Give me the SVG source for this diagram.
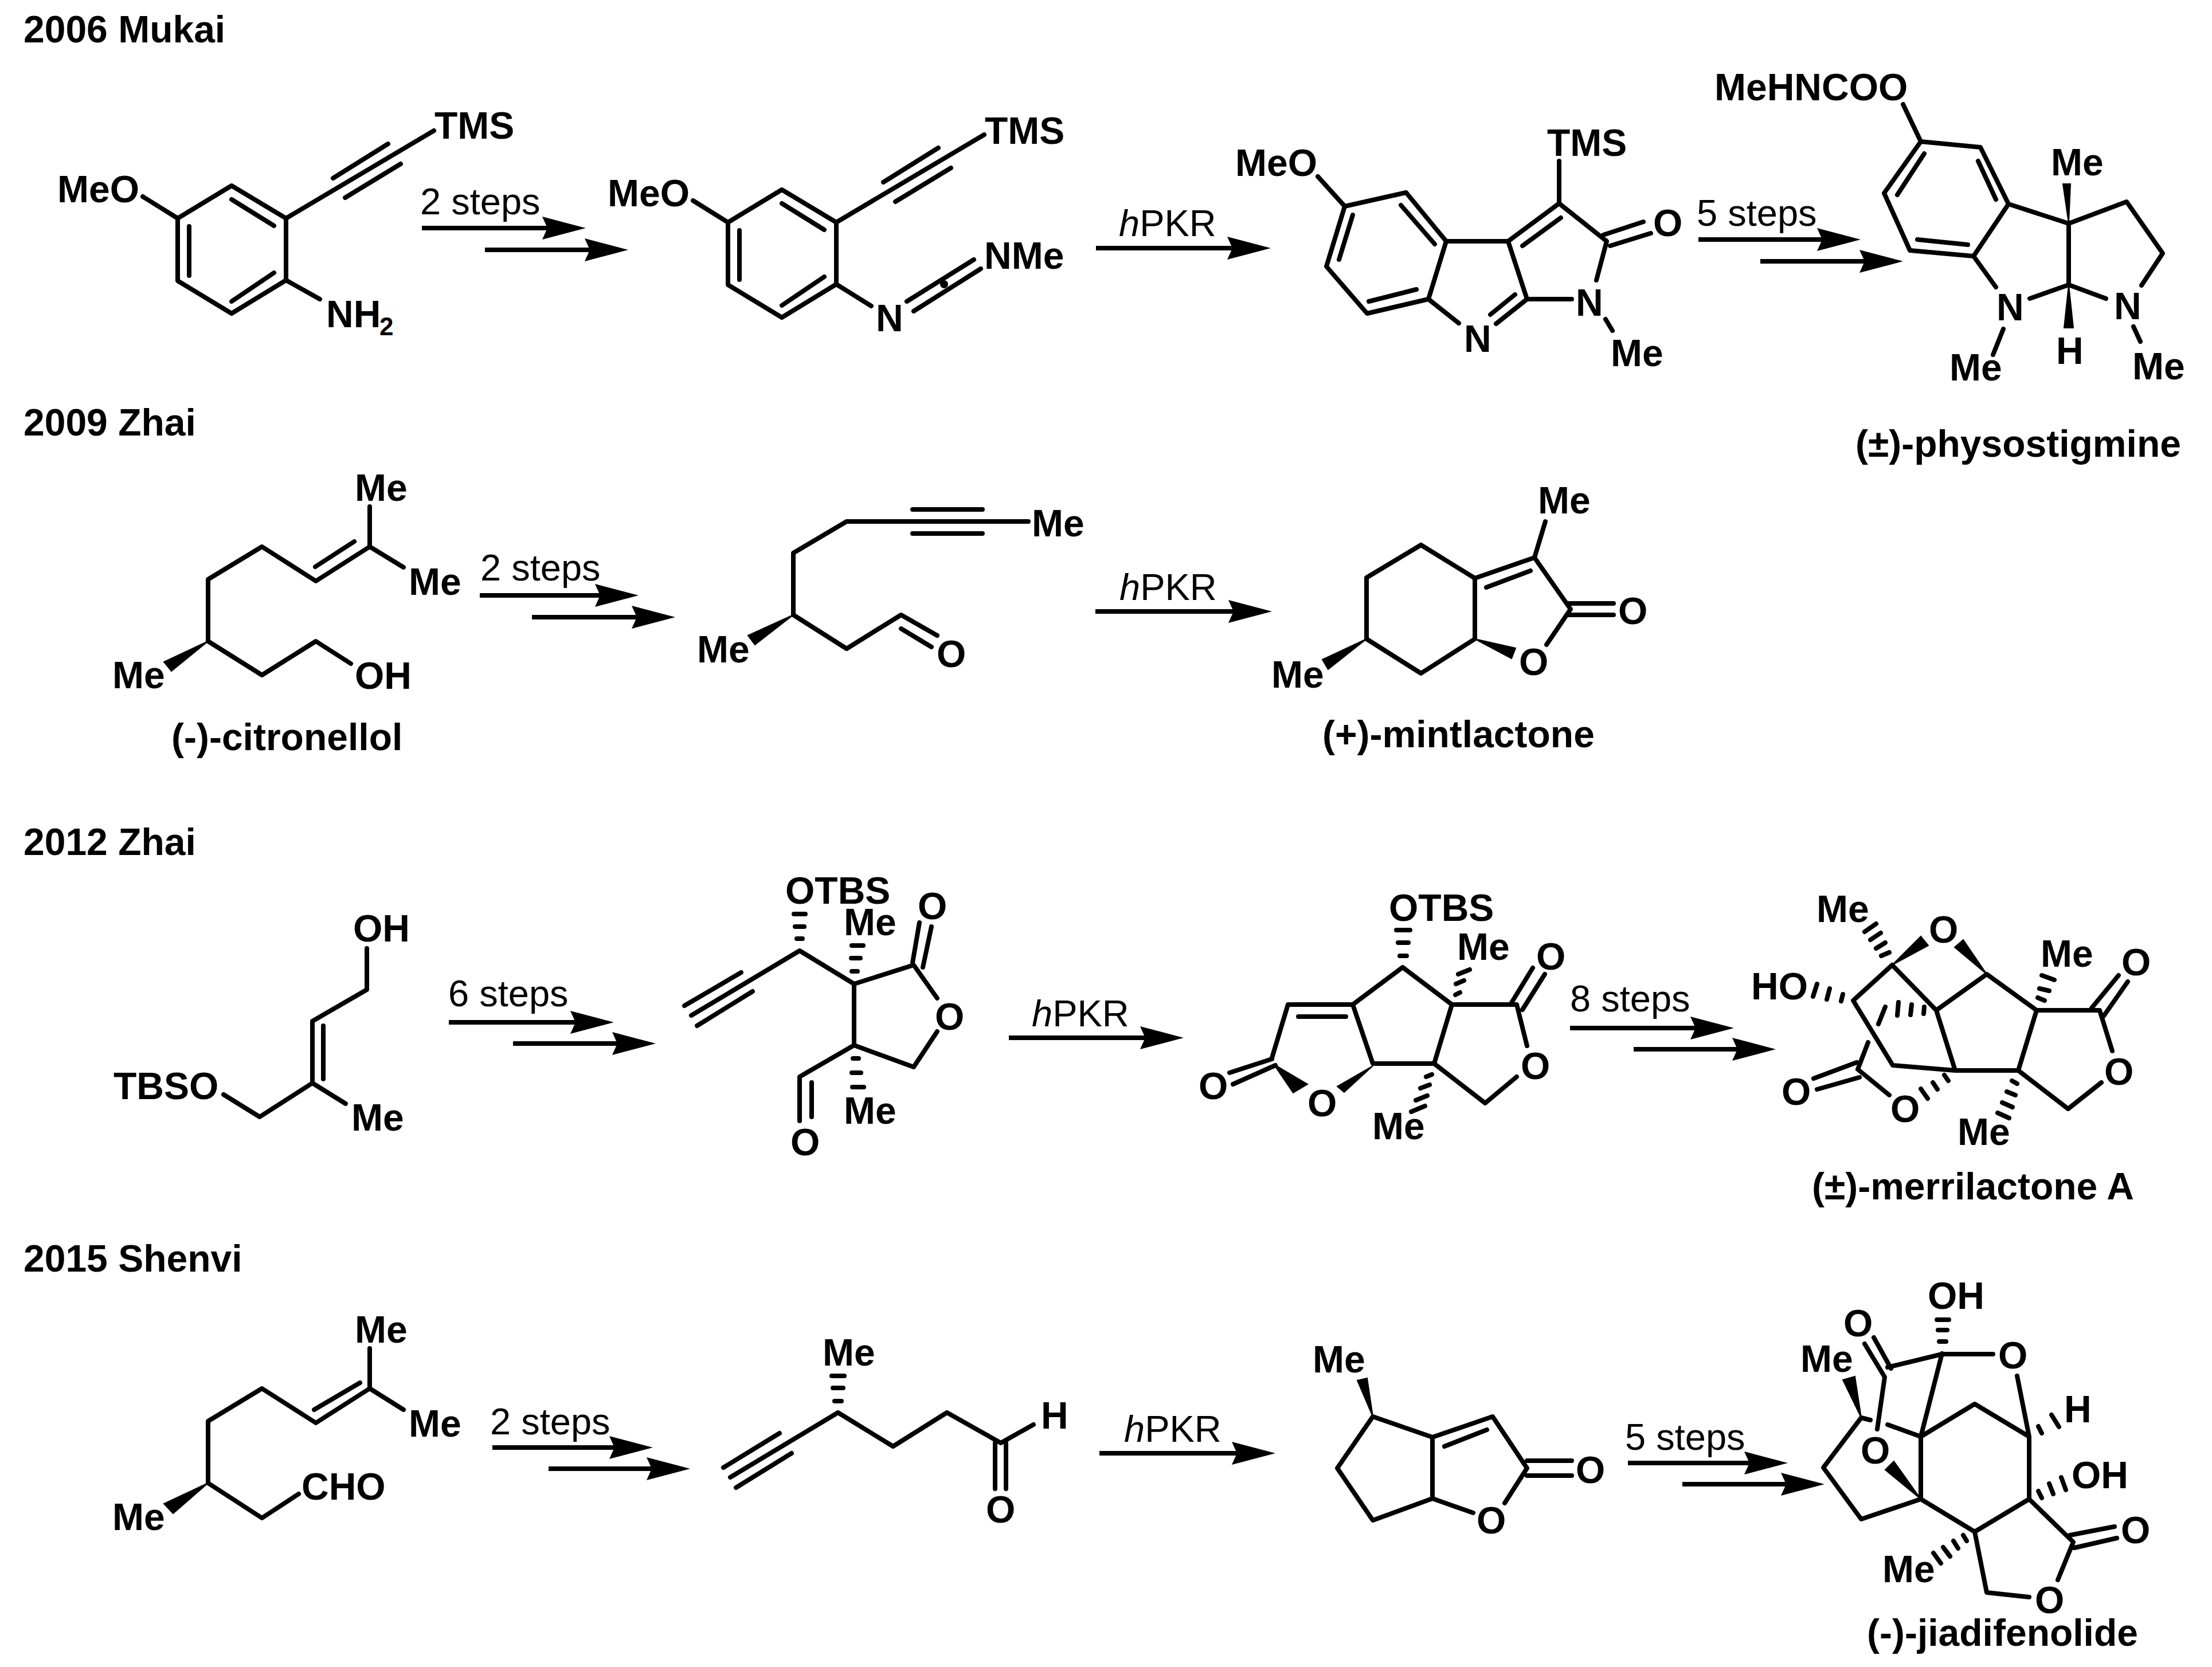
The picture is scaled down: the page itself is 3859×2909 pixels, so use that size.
<svg xmlns="http://www.w3.org/2000/svg" width="3859" height="2909" viewBox="0 0 3859 2909">
<style>
text{font-family:"Liberation Sans",Arial,sans-serif;font-size:65px;fill:#000;transform:translateX(-3px)}
.t{font-weight:700;font-size:66px}
.sub{font-weight:700;font-size:44px}
.bond{fill:none;stroke:#000;stroke-width:8;stroke-linecap:round;stroke-linejoin:round}
.hash{fill:none;stroke:#000;stroke-width:8;stroke-linecap:round}
.wedge{fill:#000;stroke:#000;stroke-width:2}
.arrow{stroke:#000;stroke-width:8;fill:none;marker-end:url(#ah)}
</style>
<defs>
<marker id="ah" markerUnits="userSpaceOnUse" markerWidth="76" markerHeight="40" viewBox="0 0 76 40" refX="10" refY="20" orient="auto"><path d="M0 0L76 20L0 40L9 20Z" fill="#000"/></marker>
</defs>
<rect width="3859" height="2909" fill="#fff"/>

<g id="headings">
<text class="t" x="44" y="74">2006 Mukai</text>
<text class="t" x="44" y="760">2009 Zhai</text>
<text class="t" x="44" y="1492">2012 Zhai</text>
<text class="t" x="44" y="2219">2015 Shenvi</text>
</g>

<g id="connectors">
<path class="arrow" d="M736 398H956"/>
<path class="arrow" d="M846 436H1030"/>
<path class="arrow" d="M1912 433H2151"/>
<path class="arrow" d="M2963 418H3180"/>
<path class="arrow" d="M3071 456H3254"/>
<path class="arrow" d="M837 1039H1048"/>
<path class="arrow" d="M928 1077H1112"/>
<path class="arrow" d="M1911 1067H2153"/>
<path class="arrow" d="M783 1784H1005"/>
<path class="arrow" d="M895 1821H1078"/>
<path class="arrow" d="M1760 1811H1999"/>
<path class="arrow" d="M2739 1794H2959"/>
<path class="arrow" d="M2850 1831H3032"/>
<path class="arrow" d="M859 2526H1073"/>
<path class="arrow" d="M957 2563H1138"/>
<path class="arrow" d="M1918 2536H2159"/>
<path class="arrow" d="M2840 2553H3053"/>
<path class="arrow" d="M2935 2590H3117"/>
</g>

<g id="arrow-labels">
<text x="736" y="374">2 steps</text>
<text x="1955" y="412"><tspan font-style="italic">h</tspan>PKR</text>
<text x="2963" y="394">5 steps</text>
<text x="841" y="1013">2 steps</text>
<text x="1956" y="1047"><tspan font-style="italic">h</tspan>PKR</text>
<text x="785" y="1756">6 steps</text>
<text x="1803" y="1791"><tspan font-style="italic">h</tspan>PKR</text>
<text x="2742" y="1765">8 steps</text>
<text x="858" y="2503">2 steps</text>
<text x="1964" y="2516"><tspan font-style="italic">h</tspan>PKR</text>
<text x="2838" y="2530">5 steps</text>
</g>

<g id="mol-aniline">
<path class="bond" d="M404 324L499 381V489L404 547L310 490V381ZM404 348L478 394M330 395V481M404 526L478 476M310 381L249 343M499 381L757 228M581 311L677 251M602 345L699 286M499 489L558 522"/>
<text class="t" x="103" y="353">MeO</text>
<text class="t" x="761" y="242">TMS</text>
<text class="t" x="572" y="571">NH</text>
<text class="sub" x="665" y="585">2</text>
</g>

<g id="mol-carbodiimide">
<path class="bond" d="M1364 331L1459 388V496L1364 554L1270 497V388ZM1364 355L1438 401M1290 402V488M1364 533L1438 483M1270 388L1209 350M1459 388L1717 235M1541 318L1637 258M1562 352L1659 293M1459 496L1520 534M1582 526L1699 453M1594 543L1711 469"/>
<circle cx="1647" cy="496" r="7"/>
<text class="t" x="1063" y="360">MeO</text>
<text class="t" x="1721" y="251">TMS</text>
<text class="t" x="1531" y="578">N</text>
<text class="t" x="1720" y="469">NMe</text>
</g>

<g id="mol-pyrroloindolone">
<path class="bond" d="M2346 360L2453 336L2523 421L2492 522L2385 547L2314 465ZM2360 375L2336 453M2444 358L2503 426M2388 526L2471 505M2523 421H2631L2720 355L2803 421L2785 489M2656 429L2723 380M2631 421L2664 522L2610 565M2664 522H2742M2643 514L2600 549M2492 522L2545 564M2797 410L2867 387M2809 429L2880 407M2801 557L2813 577M2720 355V281M2346 360L2299 308"/>
<text class="t" x="2158" y="307">MeO</text>
<text class="t" x="2702" y="272">TMS</text>
<text class="t" x="2887" y="412">O</text>
<text class="t" x="2752" y="551">N</text>
<text class="t" x="2557" y="614">N</text>
<text class="t" x="2813" y="639">Me</text>
</g>

<g id="mol-physostigmine">
<path class="bond" d="M3351 247L3455 257L3504 356L3443 447L3332 437L3287 337ZM3357 268L3310 340M3451 281L3482 348M3433 427L3345 418M3351 247L3320 182M3504 356L3609 390L3710 352L3773 442L3736 498M3609 390V497M3609 497L3541 521M3609 497L3674 521M3443 447L3482 501M3495 574L3477 619M3722 570L3734 596"/>
<path class="wedge" d="M3609 390L3599 321H3612ZM3609 497L3601 572H3617Z"/>
<text class="t" x="2994" y="175">MeHNCOO</text>
<text class="t" x="3581" y="306">Me</text>
<text class="t" x="3486" y="559">N</text>
<text class="t" x="3691" y="557">N</text>
<text class="t" x="3590" y="635">H</text>
<text class="t" x="3404" y="664">Me</text>
<text class="t" x="3723" y="662">Me</text>
<text class="t" x="3240" y="797">(±)-physostigmine</text>
</g>

<g id="mol-citronellol">
<path class="bond" d="M363 1119V1011L457 954L551 1014L645 954V884M645 954L704 990M550 989L618 945M363 1119L457 1178L551 1119L612 1158"/>
<path class="wedge" d="M363 1119L286 1155L299 1171Z"/>
<text class="t" x="622" y="874">Me</text>
<text class="t" x="716" y="1038">Me</text>
<text class="t" x="199" y="1201">Me</text>
<text class="t" x="622" y="1202">OH</text>
<text class="t" x="302" y="1309">(-)-citronellol</text>
</g>

<g id="mol-alkynal">
<path class="bond" d="M1794 910H1477L1384 965V1073L1477 1132L1572 1073L1635 1109M1572 1097L1625 1129M1592 889H1714M1592 931H1714"/>
<path class="wedge" d="M1384 1073L1305 1109L1317 1125Z"/>
<text class="t" x="1803" y="936">Me</text>
<text class="t" x="1219" y="1156">Me</text>
<text class="t" x="1637" y="1164">O</text>
</g>

<g id="mol-mintlactone">
<path class="bond" d="M2479 951L2573 1009L2677 973L2740 1063L2698 1125M2479 951L2384 1008V1115L2479 1175L2573 1115V1009M2593 1025L2670 996M2677 973L2696 910M2736 1053H2815M2736 1073H2815"/>
<path class="wedge" d="M2573 1115L2644 1131L2637 1149ZM2384 1115L2307 1151L2317 1168Z"/>
<text class="t" x="2686" y="896">Me</text>
<text class="t" x="2826" y="1089">O</text>
<text class="t" x="2653" y="1178">O</text>
<text class="t" x="2221" y="1200">Me</text>
<text class="t" x="2310" y="1304">(+)-mintlactone</text>
</g>

<g id="mol-allylic-diol">
<path class="bond" d="M640 1655V1727L545 1782V1890L453 1949L390 1910M564 1790V1883M545 1890L603 1926"/>
<text class="t" x="619" y="1643">OH</text>
<text class="t" x="201" y="1918">TBSO</text>
<text class="t" x="616" y="1973">Me</text>
</g>

<g id="mol-enyne-lactone">
<path class="bond" d="M1206 1772L1395 1659L1490 1717L1594 1684L1635 1742M1635 1800L1594 1862L1490 1824V1717M1490 1824L1395 1879V1956M1416 1889V1949M1194 1755L1293 1697M1216 1790L1313 1730M1592 1680L1604 1610M1610 1688L1625 1617"/>
<path class="hash" d="M1385 1595H1405M1387 1617H1403M1390 1638H1400M1486 1650H1506M1485 1672H1501M1486 1695H1496M1488 1847H1498M1486 1872H1502M1487 1897H1507"/>
<text class="t" x="1373" y="1577">OTBS</text>
<text class="t" x="1604" y="1604">O</text>
<text class="t" x="1475" y="1632">Me</text>
<text class="t" x="1634" y="1797">O</text>
<text class="t" x="1475" y="1961">Me</text>
<text class="t" x="1382" y="2016">O</text>
</g>

<g id="mol-tetracycle">
<path class="bond" d="M2219 1846L2247 1753H2360L2447 1688L2533 1753H2646L2664 1825M2646 1879L2591 1925L2502 1856L2533 1753M2360 1753L2395 1856H2502M2265 1774H2348M2219 1848L2145 1872M2225 1859L2151 1892M2635 1753L2674 1689M2656 1762L2695 1700"/>
<path class="wedge" d="M2222 1857L2281 1892L2256 1907ZM2395 1860L2333 1896L2345 1906Z"/>
<path class="hash" d="M2436 1623H2460M2439 1645H2457M2442 1668H2454M2544 1700L2564 1692M2540 1717L2554 1711M2539 1736L2547 1732M2488 1879L2498 1875M2478 1899L2494 1893M2470 1920L2490 1912M2462 1940L2486 1930"/>
<text class="t" x="2426" y="1607">OTBS</text>
<text class="t" x="2545" y="1675">Me</text>
<text class="t" x="2683" y="1692">O</text>
<text class="t" x="2656" y="1883">O</text>
<text class="t" x="2094" y="1918">O</text>
<text class="t" x="2284" y="1948">O</text>
<text class="t" x="2397" y="1988">Me</text>
</g>

<g id="mol-merrilactone">
<path class="bond" d="M3301 1684L3378 1763L3466 1700L3553 1763H3663L3685 1834M3666 1889L3608 1935L3521 1868L3553 1763M3521 1868H3411L3302 1859L3233 1746L3301 1684M3378 1763L3411 1868M3649 1759L3696 1702M3670 1773L3712 1713M3241 1866L3259 1819M3239 1854L3164 1882M3244 1880L3170 1901M3241 1866L3296 1911"/>
<path class="wedge" d="M3301 1684L3351 1634L3364 1650ZM3466 1700L3410 1653L3425 1640Z"/>
<path class="hash" d="M3282 1668L3296 1662M3273 1655L3289 1645M3263 1640L3281 1628M3253 1626L3273 1612M3555 1741L3567 1746M3558 1725L3575 1729M3562 1702L3584 1710M3215 1735L3212 1747M3192 1725L3187 1744M3170 1717L3163 1739M3357 1757L3356 1769M3335 1753L3333 1771M3312 1749L3310 1772M3289 1757L3277 1787M3392 1876L3399 1886M3372 1889L3380 1901M3351 1900L3363 1917M3510 1886L3519 1891M3501 1905L3516 1911M3493 1924L3511 1932M3485 1942L3505 1951"/>
<text class="t" x="3172" y="1609">Me</text>
<text class="t" x="3368" y="1645">O</text>
<text class="t" x="3563" y="1687">Me</text>
<text class="t" x="3704" y="1702">O</text>
<text class="t" x="3058" y="1744">HO</text>
<text class="t" x="3674" y="1893">O</text>
<text class="t" x="3111" y="1928">O</text>
<text class="t" x="3301" y="1958">O</text>
<text class="t" x="3418" y="1998">Me</text>
<text class="t" x="3164" y="2093">(±)-merrilactone A</text>
</g>

<g id="mol-citronellal">
<path class="bond" d="M645 2353V2423L551 2483L457 2423L363 2480V2588L457 2649L521 2607M548 2460L628 2413M645 2423L704 2460"/>
<path class="wedge" d="M363 2588L286 2624L302 2641Z"/>
<text class="t" x="622" y="2343">Me</text>
<text class="t" x="716" y="2507">Me</text>
<text class="t" x="529" y="2617">CHO</text>
<text class="t" x="199" y="2670">Me</text>
</g>

<g id="mol-ynal">
<path class="bond" d="M1274 2578L1462 2465L1558 2524L1652 2465L1746 2518L1803 2486M1262 2561L1360 2501M1284 2596L1381 2536M1736 2518V2598M1755 2518V2598"/>
<path class="hash" d="M1451 2401H1473M1453 2422H1471M1456 2445H1468"/>
<text class="t" x="1438" y="2383">Me</text>
<text class="t" x="1819" y="2493">H</text>
<text class="t" x="1723" y="2657">O</text>
</g>

<g id="mol-bicyclic-lactone">
<path class="bond" d="M2395 2472L2499 2508L2604 2472L2664 2562L2625 2623M2570 2640L2499 2615L2395 2653L2333 2562L2395 2472M2499 2508V2615M2520 2524L2594 2495M2664 2549H2742M2664 2575H2742"/>
<path class="wedge" d="M2395 2472L2368 2409L2385 2405Z"/>
<text class="t" x="2293" y="2395">Me</text>
<text class="t" x="2752" y="2588">O</text>
<text class="t" x="2579" y="2676">O</text>
</g>

<g id="mol-jiadifenolide">
<path class="bond" d="M3477 2363H3388L3293 2386M3269 2334L3299 2388M3253 2345L3288 2403L3275 2494M3388 2362L3351 2507L3293 2486M3351 2507L3445 2450L3540 2507L3519 2401M3351 2507V2616L3445 2673L3540 2616V2507M3351 2616L3247 2651L3181 2561L3247 2474L3263 2478M3540 2616L3617 2691L3590 2757M3611 2679L3689 2664M3619 2701L3693 2684M3445 2673L3466 2779L3540 2787"/>
<path class="wedge" d="M3351 2616L3289 2565L3304 2550ZM3247 2474L3215 2408L3236 2402Z"/>
<path class="hash" d="M3379 2303H3400M3381 2321H3397M3383 2341H3395M3556 2489L3562 2501M3579 2469L3592 2490M3556 2602L3562 2614M3575 2589L3582 2607M3596 2578L3604 2600M3425 2679L3431 2689M3408 2689L3416 2702M3390 2700L3402 2716M3373 2710L3386 2728"/>
<text class="t" x="3366" y="2284">OH</text>
<text class="t" x="3219" y="2332">O</text>
<text class="t" x="3489" y="2388">O</text>
<text class="t" x="3144" y="2394">Me</text>
<text class="t" x="3604" y="2482">H</text>
<text class="t" x="3249" y="2554">O</text>
<text class="t" x="3617" y="2597">OH</text>
<text class="t" x="3703" y="2693">O</text>
<text class="t" x="3287" y="2761">Me</text>
<text class="t" x="3553" y="2815">O</text>
<text class="t" x="3260" y="2872">(-)-jiadifenolide</text>
</g>
</svg>
